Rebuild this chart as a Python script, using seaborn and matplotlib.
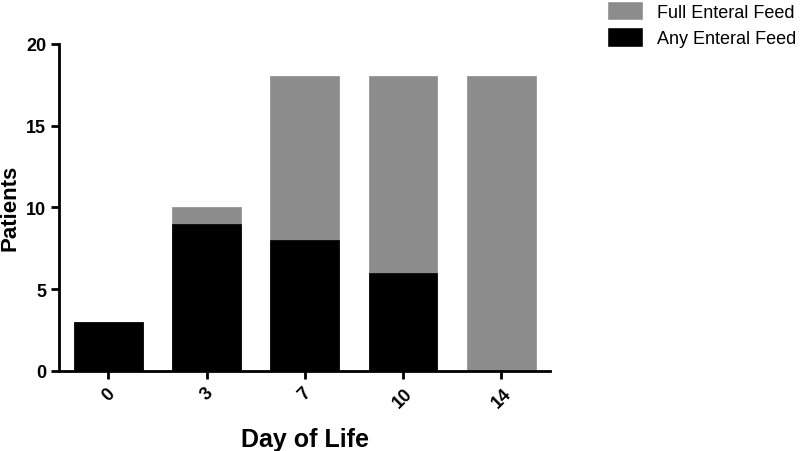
import pandas as pd
import matplotlib
matplotlib.use("Agg")
import matplotlib.pyplot as plt
import seaborn as sns
from matplotlib.patches import Patch

# Dados
dias = ["0", "3", "7", "10", "14"]
any_enteral = [3, 9, 8, 6, 0]
full_enteral = [0, 1, 10, 12, 18]

df = pd.DataFrame({"Dia": dias, "Any": any_enteral, "Full": full_enteral})
df["Total"] = df["Any"] + df["Full"]

sns.set_style("ticks")
plt.rcParams["font.family"] = ["Liberation Sans", "DejaVu Sans"]
plt.rcParams["text.color"] = "black"
plt.rcParams["axes.labelcolor"] = "black"
plt.rcParams["xtick.color"] = "black"
plt.rcParams["ytick.color"] = "black"
plt.rcParams["axes.edgecolor"] = "black"

fig = plt.figure(figsize=(8, 4.52), dpi=100)
ax = fig.add_axes([0.074, 0.177, 0.614, 0.724])

cinza = "#8c8c8c"
# total (cinza) por baixo, "any" (preto) por cima
sns.barplot(data=df, x="Dia", y="Total", color=cinza, width=0.7, saturation=1,
            edgecolor=cinza, linewidth=0.5, ax=ax)
sns.barplot(data=df, x="Dia", y="Any", color="black", width=0.7, saturation=1,
            edgecolor="black", linewidth=0.5, ax=ax)

ax.set_ylim(0, 20)
ax.set_xlim(-0.5, 4.5)
ax.set_yticks([0, 5, 10, 15, 20])
ax.set_ylabel("Patients", fontsize=16, fontweight="bold")
ax.set_xlabel("Day of Life", fontsize=18, fontweight="bold", labelpad=12)
for lbl in ax.get_yticklabels():
    lbl.set_fontsize(13)
    lbl.set_fontweight("bold")
for lbl in ax.get_xticklabels():
    lbl.set_fontsize(13)
    lbl.set_fontweight("bold")
    lbl.set_rotation(45)
    lbl.set_ha("center")

sns.despine(ax=ax)
for s in ["left", "bottom"]:
    ax.spines[s].set_linewidth(2)
ax.tick_params(width=2, length=6, direction="out")

handles = [Patch(facecolor=cinza, label="Full Enteral Feed"),
           Patch(facecolor="black", label="Any Enteral Feed")]
fig.legend(handles=handles, loc="upper left", bbox_to_anchor=(0.745, 1.02),
           frameon=False, fontsize=13, handlelength=2.0, handleheight=1.3,
           handletextpad=0.8, borderaxespad=0.2, labelspacing=0.35)

fig.savefig("out.png", dpi=100)
